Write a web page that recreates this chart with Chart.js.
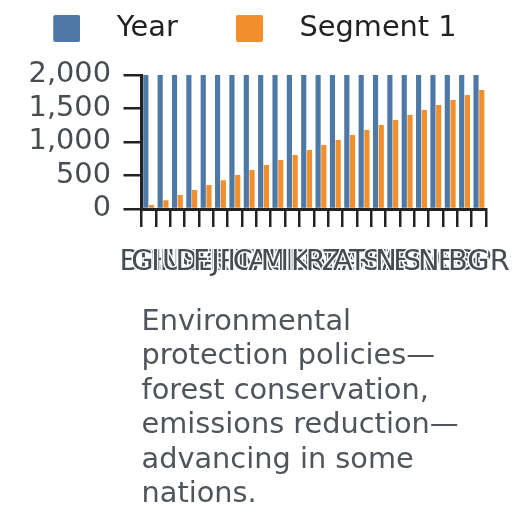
<!DOCTYPE html>
<html>
<head>
<meta charset="utf-8">
<script src="https://cdn.jsdelivr.net/npm/chart.js@4.4.1/dist/chart.umd.min.js"></script>
<style>
html,body{margin:0;padding:0;background:#ffffff;}
#wrap{width:528px;height:528px;}
</style>
</head>
<body>
<div id="wrap"><canvas id="c" width="528" height="528"></canvas></div>
<script>
const categories = ['BRA','GHA','IND','USA','DEU','FRA','JPN','ITA','CAN','AUS','MEX','IDN','KOR','RUS','ZAF','ARG','TUR','SAU','NGA','EGY','SWE','NOR','ESP','BGR'];
const seriesNames = ['Year', 'Segment 1'];
const yearValues = [2000,2000,2000,2000,2000,2000,2000,2000,2000,2000,2000,2000,2000,2000,2000,2000,2000,2000,2000,2000,2000,2000,2000,2000];
const segment1Values = [60,129,209,284,358,428,507,582,657,731,806,881,955,1030,1104,1179,1254,1328,1403,1478,1552,1627,1701,1776];
const yTickValues = [0, 500, 1000, 1500, 2000];
const titleLines = ['Environmental','protection policies\u2014','forest conservation,','emissions reduction\u2014','advancing in some','nations.'];
const seriesColors = ['#4e79a7', '#f28e2b'];

const FONT = "'DejaVu Sans', sans-serif";

function makeSwatch(color) {
  const W = 45, S = 27, r = 2;
  const c = document.createElement('canvas');
  c.width = W; c.height = S;
  const g = c.getContext('2d');
  const x = W - S, y = 0;
  g.fillStyle = color;
  g.beginPath();
  g.moveTo(x + r, y);
  g.lineTo(x + S - r, y);
  g.quadraticCurveTo(x + S, y, x + S, y + r);
  g.lineTo(x + S, y + S - r);
  g.quadraticCurveTo(x + S, y + S, x + S - r, y + S);
  g.lineTo(x + r, y + S);
  g.quadraticCurveTo(x, y + S, x, y + S - r);
  g.lineTo(x, y + r);
  g.quadraticCurveTo(x, y, x + r, y);
  g.closePath();
  g.fill();
  return c;
}
const swatches = seriesColors.map(makeSwatch);

new Chart(document.getElementById('c'), {
  type: 'bar',
  data: {
    labels: categories,
    datasets: [
      { label: seriesNames[0], data: yearValues, backgroundColor: seriesColors[0] },
      { label: seriesNames[1], data: segment1Values, backgroundColor: seriesColors[1] }
    ]
  },
  options: {
    responsive: false,
    animation: false,
    layout: { padding: { top: -4, left: -5, right: 5, bottom: 11.7 } },
    plugins: {
      legend: {
        position: 'top',
        align: 'start',
        labels: {
          font: { family: FONT, size: 28.8 },
          color: '#222222',
          padding: 18,
          usePointStyle: true,
          pointStyleWidth: 89.4,
          generateLabels(chart) {
            const items = Chart.defaults.plugins.legend.labels.generateLabels(chart);
            items.forEach((it, i) => { it.pointStyle = swatches[i]; });
            return items;
          }
        }
      },
      title: { display: true, text: '', weight: 500, padding: 0, font: { size: 22.2, lineHeight: 1 } },
      tooltip: { enabled: false }
    },
    scales: {
      x: {
        offset: true,
        afterFit(scale) { scale.height = 307.3; },
        grid: { display: true, offset: true, drawOnChartArea: false, drawTicks: true, tickLength: 18, color: '#222222', lineWidth: 2.5 },
        border: { display: true, color: '#222222', width: 3 },
        ticks: {
          autoSkip: false, maxRotation: 0, minRotation: 0,
          font: { family: FONT, size: 28.8 },
          color: '#474b52',
          padding: 18.2,
          textStrokeColor: '#ffffff',
          textStrokeWidth: 3
        },
        title: {
          display: true,
          text: titleLines,
          align: 'start',
          color: '#50555c',
          font: { family: FONT, size: 28.8, lineHeight: 1.2 },
          padding: { top: 25.2, bottom: 4 }
        }
      },
      y: {
        min: yTickValues[0],
        max: yTickValues[yTickValues.length - 1],
        afterBuildTicks(scale) { scale.ticks = yTickValues.map(v => ({ value: v })); },
        afterFit(scale) { scale.width = 146.5; },
        grid: { display: true, drawOnChartArea: false, drawTicks: true, tickLength: 18, color: '#222222', lineWidth: 2.5 },
        border: { display: true, color: '#222222', width: 3 },
        ticks: {
          autoSkip: false,
          font: { family: FONT, size: 28.8 },
          color: '#474b52',
          padding: 12.5
        }
      }
    }
  }
});
</script>
</body>
</html>
